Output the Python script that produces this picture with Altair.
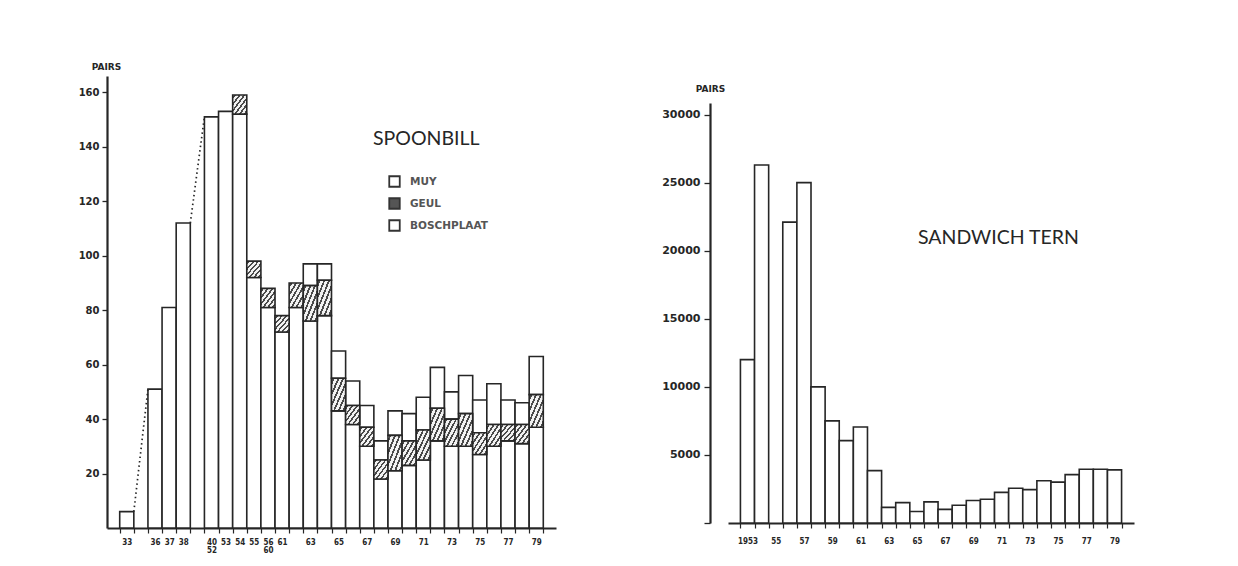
import altair as alt
import pandas as pd

# ---------------- Spoonbill (stacked, by colony) ----------------
sp_slots = ["33", "34-35", "36", "37", "38", "39", "40-52", "53", "54", "55", "56-60",
            "61", "62", "63", "64", "65", "66", "67", "68", "69", "70", "71", "72", "73",
            "74", "75", "76", "77", "78", "79"]
sp_labels = ["33", "", "36", "37", "38", "", "40|52", "53", "54", "55", "56|60",
             "61", "", "63", "", "65", "", "67", "", "69", "", "71", "", "73",
             "", "75", "", "77", "", "79"]
sp_muy = [6, None, 51, 81, 112, None, 151, 153, 152, 92, 81,
          72, 81, 76, 78, 43, 38, 30, 18, 21, 23, 25, 32, 30,
          30, 27, 30, 32, 31, 37]
sp_geul = [0, None, 0, 0, 0, None, 0, 0, 7, 6, 7,
           6, 9, 13, 13, 12, 7, 7, 7, 13, 9, 11, 12, 10,
           12, 8, 8, 6, 7, 12]
sp_bosch = [0, None, 0, 0, 0, None, 0, 0, 0, 0, 0,
            0, 0, 8, 6, 10, 9, 8, 7, 9, 10, 12, 15, 10,
            14, 12, 15, 9, 8, 14]
sp_parts = ["MUY", "GEUL", "BOSCHPLAAT"]
sp_yticks = [20, 40, 60, 80, 100, 120, 140, 160]

# dotted connectors across the missing years
dot_slots = ["34-35", "36", "39", "40-52"]
dot_vals = [6, 51, 112, 151]
dot_groups = ["a", "a", "b", "b"]

# ---------------- Sandwich tern ----------------
tern_years = ["1953", "1954", "1955", "1956", "1957", "1958", "1959", "1960", "1961",
              "1962", "1963", "1964", "1965", "1966", "1967", "1968", "1969", "1970",
              "1971", "1972", "1973", "1974", "1975", "1976", "1977", "1978", "1979"]
tern_labels = ["1953", "", "55", "", "57", "", "59", "", "61",
               "", "63", "", "65", "", "67", "", "69", "",
               "71", "", "73", "", "75", "", "77", "", "79"]
tern_pairs = [12000, 26300, None, 22100, 25000, 10000, 7500, 6050, 7050,
              3850, 1150, 1500, 850, 1550, 1000, 1300, 1650, 1750,
              2250, 2550, 2450, 3100, 3000, 3550, 3950, 3950, 3900]
tern_yticks = [0, 5000, 10000, 15000, 20000, 25000, 30000]

INK = "#262626"
FONT_LBL = "DejaVu Sans"
FONT_NARROW = "Liberation Sans Narrow, DejaVu Sans Condensed, DejaVu Sans"
FONT_TITLE = "Lato"


def label_expr(keys, labels):
    ks = ",".join("'%s'" % k for k in keys)
    ls = ",".join("'%s'" % l for l in labels)
    return ("isValid(datum.value) && indexof([%s], datum.value) >= 0 ? "
            "split([%s][indexof([%s], datum.value)], '|') : ''") % (ks, ls, ks)


# stacked segments
rows = []
for i, k in enumerate(sp_slots):
    if sp_muy[i] is None:
        continue
    lo = 0
    for part, arr in zip(sp_parts, (sp_muy, sp_geul, sp_bosch)):
        v = arr[i]
        if v:
            rows.append({"slot": k, "part": part, "lo": lo, "hi": lo + v})
        lo += v
sp_df = pd.DataFrame(rows)
dot_df = pd.DataFrame({"slot": dot_slots, "lo": dot_vals, "grp": dot_groups})

# hatch fill as striped gradient
N = 6
stops = []
for k in range(N):
    a = k / N
    stops += [
        alt.GradientStop(offset=a, color="#f2f2f2"),
        alt.GradientStop(offset=a + 0.3 / N, color="#f2f2f2"),
        alt.GradientStop(offset=a + 0.3 / N, color="#4a4a4a"),
        alt.GradientStop(offset=a + 0.7 / N, color="#4a4a4a"),
        alt.GradientStop(offset=a + 0.7 / N, color="#f2f2f2"),
    ]
stops.append(alt.GradientStop(offset=1, color="#f2f2f2"))
hatch = alt.LinearGradient(gradient="linear", stops=stops, x1=0, y1=0, x2=1, y2=1)

sp_xscale = alt.Scale(domain=sp_slots, paddingInner=0, paddingOuter=0.9)
sp_xaxis = alt.Axis(title=None, tickBand="extent", tickSize=5, tickWidth=1.2,
                    labelPadding=5, labelAngle=0, labelExpr=label_expr(sp_slots, sp_labels),
                    labelFont=FONT_NARROW, labelFontSize=8, labelFontWeight="bold",
                    labelLineHeight=8, labelOverlap=False, domainWidth=2)
sp_yscale = alt.Scale(domain=[0, 166], nice=False, zero=True)
sp_yaxis = alt.Axis(title="PAIRS", titleAngle=0, titleX=-1, titleY=-10,
                    titleAlign="center", titleBaseline="middle", titleFont=FONT_LBL,
                    titleFontSize=9, titleFontWeight="bold", titleColor=INK,
                    values=sp_yticks, tickSize=5, tickWidth=1.3, labelPadding=3,
                    labelFont=FONT_LBL, labelFontSize=10, labelFontWeight="bold",
                    domainWidth=2.2, grid=False)

x_bar = alt.X("slot:N", scale=sp_xscale, axis=sp_xaxis)
x_edge = alt.X("slot:N", scale=sp_xscale, axis=sp_xaxis, bandPosition=0)
y_sp = alt.Y("lo:Q", scale=sp_yscale, axis=sp_yaxis)

plain = alt.Chart(sp_df).transform_filter("datum.part != 'GEUL'").mark_bar(
    stroke=INK, strokeWidth=1.6
).encode(
    x=x_bar, y=y_sp, y2="hi:Q",
    fill=alt.Fill("part:N",
                  scale=alt.Scale(domain=sp_parts, range=["white", "#555555", "white"]),
                  legend=alt.Legend(orient="none", legendX=281, legendY=99, title=None,
                                    symbolType="square", symbolSize=110,
                                    symbolStrokeColor="#333333", symbolStrokeWidth=1.8,
                                    labelFont=FONT_LBL, labelFontSize=10.5,
                                    labelFontWeight="bold", labelColor="#555555",
                                    labelOffset=9, rowPadding=3, padding=0)),
)
hatched = alt.Chart(sp_df).transform_filter("datum.part == 'GEUL'").mark_bar(
    fill=hatch, stroke=INK, strokeWidth=1.6
).encode(x=x_bar, y=y_sp, y2="hi:Q")
dots = alt.Chart(dot_df).mark_line(
    strokeDash=[1.5, 3], strokeWidth=1.7, color=INK
).encode(x=x_edge, y=y_sp, detail="grp:N")

spoonbill = alt.layer(plain, hatched, dots).properties(
    width=449, height=452,
    title=alt.TitleParams("SPOONBILL", anchor="start", frame="group", orient="top",
                          offset=0, baseline="middle", dx=266, dy=96,
                          font=FONT_TITLE, fontSize=19.5, fontWeight="normal", color=INK),
)

tern_df = pd.DataFrame({"year": tern_years, "pairs": tern_pairs}).dropna()
tern = alt.Chart(tern_df).mark_bar(fill="white", stroke=INK, strokeWidth=1.6).encode(
    x=alt.X("year:N",
            scale=alt.Scale(domain=tern_years, paddingInner=0, paddingOuter=0.88),
            axis=alt.Axis(title=None, tickBand="extent", tickSize=5, tickWidth=1.2,
                          labelPadding=9, labelAngle=0,
                          labelExpr=label_expr(tern_years, tern_labels),
                          labelFont=FONT_NARROW, labelFontSize=8, labelFontWeight="bold",
                          labelOverlap=False, domainWidth=2)),
    y=alt.Y("pairs:Q",
            scale=alt.Scale(domain=[0, 30850], nice=False),
            axis=alt.Axis(title="PAIRS", titleAngle=0, titleX=0, titleY=-15,
                          titleAlign="center", titleBaseline="middle", titleFont=FONT_LBL,
                          titleFontSize=9, titleFontWeight="bold", titleColor=INK,
                          values=tern_yticks, offset=18, tickSize=6, tickWidth=1.3,
                          labelPadding=4, labelFont=FONT_LBL, labelFontSize=11,
                          labelFontWeight="bold",
                          labelExpr="datum.value == 0 ? '' : format(datum.value, 'd')",
                          domainWidth=2.2, grid=False)),
).properties(
    width=406, height=420,
    title=alt.TitleParams("SANDWICH TERN", anchor="start", frame="group", orient="top",
                          offset=0, baseline="middle", dx=190, dy=173,
                          font=FONT_TITLE, fontSize=19.5, fontWeight="normal", color=INK),
)

spacer = alt.Chart(pd.DataFrame({"s": [0]})).mark_point(opacity=0).properties(width=406, height=8)

chart = alt.hconcat(
    spoonbill, alt.vconcat(spacer, tern, spacing=0), spacing=105
).properties(
    padding={"left": 70, "top": 54, "right": 5, "bottom": 0},
    background="white",
).configure_view(stroke=None).configure_axis(
    domainColor=INK, tickColor=INK, labelColor=INK, grid=False
)

chart.save("out.html", embed_options={"renderer": "svg", "actions": False})
